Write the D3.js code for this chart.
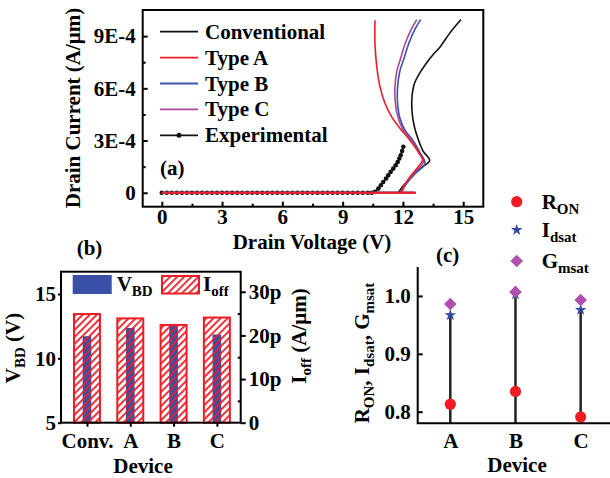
<!DOCTYPE html>
<html>
<head>
<meta charset="utf-8">
<script src="https://cdn.jsdelivr.net/npm/d3@7"></script>
<style>
  body { margin: 0; background: #fff; }
  text { font-family: "Liberation Serif", "Times New Roman", serif; font-weight: bold; fill: #000; }
</style>
</head>
<body>
<div class="chart"></div>
<script>
// ---- panel (a): drain current (units of 1E-4 A/um) vs drain voltage
var seriesNames = [`Conventional`, `Type A`, `Type B`, `Type C`, `Experimental`];
var seriesColors = [`#111111`, `#ee1c24`, `#3a52a8`, `#a8479f`, `#111111`];

// first two points = low current sweep along 0, the rest = breakdown / snapback branch
var convV = [0, 12.6, 11.77, 11.95, 12.2, 12.55, 12.95, 13.33, 13.0, 12.75, 12.55, 12.45, 12.45, 12.58, 12.85, 13.2, 13.55, 13.85, 14.35, 14.89];
var convI = [0, 0, 0, 0.3, 0.65, 1.05, 1.47, 1.85, 2.4, 3.1, 3.9, 4.7, 5.5, 6.3, 6.9, 7.5, 8.0, 8.38, 9.2, 9.95];
var typeAV = [0, 12.65, 11.89, 12.02, 12.35, 12.69, 12.98, 12.72, 12.35, 11.86, 11.44, 11.11, 10.86, 10.7, 10.61, 10.61];
var typeAI = [0, 0, 0, 0.33, 0.91, 1.39, 1.93, 2.44, 3.02, 3.69, 4.36, 5.13, 6.08, 7.23, 8.57, 9.91];
var typeBV = [0, 12.6, 11.93, 12.05, 12.3, 12.65, 13.1, 12.85, 12.5, 12.1, 11.85, 11.73, 11.73, 11.85, 12.05, 12.3, 12.6, 12.88];
var typeBI = [0, 0, 0, 0.3, 0.7, 1.15, 1.68, 2.3, 3.0, 3.6, 4.3, 5.2, 6.0, 7.0, 7.7, 8.6, 9.4, 9.95];
var typeCV = [0, 12.6, 11.9, 12.02, 12.25, 12.6, 13.02, 12.75, 12.4, 12.0, 11.75, 11.62, 11.6, 11.7, 11.88, 12.12, 12.42, 12.69];
var typeCI = [0, 0, 0, 0.3, 0.72, 1.2, 1.77, 2.35, 3.05, 3.65, 4.35, 5.2, 6.0, 7.0, 7.7, 8.6, 9.4, 9.95];
var expV = [0, 0.25, 0.5, 0.75, 1, 1.25, 1.5, 1.75, 2, 2.25, 2.5, 2.75, 3, 3.25, 3.5, 3.75, 4, 4.25, 4.5, 4.75,
            5, 5.25, 5.5, 5.75, 6, 6.25, 6.5, 6.75, 7, 7.25, 7.5, 7.75, 8, 8.25, 8.5, 8.75, 9, 9.25, 9.5, 9.75,
            10, 10.25, 10.45, 10.61, 10.78, 10.9, 11.02, 11.16, 11.27, 11.39, 11.52, 11.64, 11.74, 11.82, 11.89, 11.96, 12.02];
var expI = [0, 0, 0, 0, 0, 0, 0, 0, 0, 0, 0, 0, 0, 0, 0, 0, 0, 0, 0, 0,
            0, 0, 0, 0, 0, 0, 0, 0, 0, 0, 0, 0, 0, 0, 0, 0, 0, 0, 0, 0,
            0, 0, 0, 0.05, 0.24, 0.43, 0.62, 0.82, 1.0, 1.2, 1.39, 1.58, 1.77, 1.97, 2.16, 2.4, 2.64];
var voltTicks = [0, 3, 6, 9, 12, 15];
var voltMinor = [1.5, 4.5, 7.5, 10.5, 13.5];
var currTicks = [0, 3, 6, 9];
var currMinor = [1.5, 4.5, 7.5];

// ---- panel (b)
var devicesB = [`Conv.`, `A`, `B`, `C`];
var vbd = [11.72, 12.36, 12.52, 11.85];       // V
var ioff = [24.9, 23.9, 22.4, 24.1];          // pA/um
var vbdTicks = [5, 10, 15];
var ioffTicks = [0, 10, 20, 30];
var ioffMinor = [5, 15, 25];

// ---- panel (c), normalised
var devicesC = [`A`, `B`, `C`];
var ron = [0.813, 0.835, 0.791];
var idsat = [0.967, 1.003, 0.976];
var gmsat = [0.986, 1.007, 0.993];
var normTicks = [0.8, 0.9, 1.0];

var fontSize = 21;
var subSize = 15;

var svg = d3.select(`.chart`)
    .append(`svg`)
    .attr(`width`, 610)
    .attr(`height`, 478);

var defs = svg.append(`defs`);
var hatch = defs.append(`pattern`)
    .attr(`id`, `hatch`)
    .attr(`patternUnits`, `userSpaceOnUse`)
    .attr(`width`, 5)
    .attr(`height`, 5)
    .attr(`patternTransform`, `rotate(45)`);
hatch.append(`line`)
    .attr(`x1`, 1).attr(`y1`, 0).attr(`x2`, 1).attr(`y2`, 5)
    .style(`stroke`, `#ee1c24`).style(`stroke-width`, 1.8);

function richText(sel, parts) {
    // parts: [text, isSubscript]
    var prevSub = false;
    parts.forEach(p => {
        var t = sel.append(`tspan`).text(p[0]);
        if (p[1]) {
            t.style(`font-size`, `${subSize}px`).attr(`dy`, prevSub ? 0 : 5);
        } else {
            t.style(`font-size`, `${fontSize}px`).attr(`dy`, prevSub ? -5 : 0);
        }
        prevSub = p[1];
    });
    return sel;
}

function styleAxis(g) {
    g.select(`.domain`).remove();
    g.selectAll(`.tick line`).style(`stroke`, `#000`).style(`stroke-width`, 2);
    g.selectAll(`.tick text`)
        .style(`font-family`, `"Liberation Serif", "Times New Roman", serif`)
        .style(`font-weight`, `bold`)
        .style(`font-size`, `${fontSize}px`)
        .style(`fill`, `#000`);
}

// ================= panel (a)
var xA = d3.scaleLinear().domain([-0.95, 16]).range([142.7, 483.3]);
var yA = d3.scaleLinear().domain([-0.8, 10.5]).range([206.7, 10]);
var gA = svg.append(`g`);

gA.append(`g`)
    .attr(`transform`, `translate(0,206.7)`)
    .call(d3.axisBottom(xA).tickValues(voltTicks).tickSize(-5).tickPadding(2.5))
    .call(styleAxis);
gA.append(`g`)
    .attr(`transform`, `translate(0,206.7)`)
    .call(d3.axisBottom(xA).tickValues(voltMinor).tickSize(-3).tickFormat(``))
    .call(styleAxis);
gA.append(`g`)
    .attr(`transform`, `translate(142.7,0)`)
    .call(d3.axisLeft(yA).tickValues(currTicks).tickSize(-5).tickPadding(7)
        .tickFormat(d => d === 0 ? `0` : `${d}E-4`))
    .call(styleAxis);
gA.append(`g`)
    .attr(`transform`, `translate(142.7,0)`)
    .call(d3.axisLeft(yA).tickValues(currMinor).tickSize(-3).tickFormat(``))
    .call(styleAxis);

var curves = [
    {name: seriesNames[0], color: seriesColors[0], v: convV, i: convI},
    {name: seriesNames[2], color: seriesColors[2], v: typeBV, i: typeBI},
    {name: seriesNames[3], color: seriesColors[3], v: typeCV, i: typeCI},
    {name: seriesNames[1], color: seriesColors[1], v: typeAV, i: typeAI}
];

var flatLine = d3.line().x(d => xA(d[0])).y(d => yA(d[1]));
var smoothLine = d3.line().x(d => xA(d[0])).y(d => yA(d[1])).curve(d3.curveCatmullRom.alpha(0.5));

// experimental: line + dots
var expPts = expV.map((v, k) => [v, expI[k]]);
gA.append(`path`)
    .attr(`d`, flatLine(expPts))
    .style(`fill`, `none`).style(`stroke`, seriesColors[4]).style(`stroke-width`, 1.5);
gA.selectAll(`.expdot`)
    .data(expPts)
    .enter()
    .append(`circle`)
    .attr(`class`, `expdot`)
    .attr(`cx`, d => xA(d[0]))
    .attr(`cy`, d => yA(d[1]))
    .attr(`r`, 2.3)
    .style(`fill`, seriesColors[4]);

curves.forEach(c => {
    var pts = c.v.map((v, k) => [v, c.i[k]]);
    gA.append(`path`)
        .attr(`d`, flatLine(pts.slice(0, 2)))
        .style(`fill`, `none`).style(`stroke`, c.color).style(`stroke-width`, 2);
    gA.append(`path`)
        .attr(`d`, smoothLine(pts.slice(2)))
        .style(`fill`, `none`).style(`stroke`, c.color).style(`stroke-width`, 1.6);
});

gA.append(`rect`)
    .attr(`x`, 142.7).attr(`y`, 10)
    .attr(`width`, 483.3 - 142.7).attr(`height`, 206.7 - 10)
    .style(`fill`, `none`).style(`stroke`, `#000`).style(`stroke-width`, 2);

// legend (a)
var legA = gA.selectAll(`.legA`)
    .data(seriesNames)
    .enter()
    .append(`g`)
    .attr(`class`, `legA`)
    .attr(`transform`, (d, k) => `translate(160, ${31.7 + k * 25.9})`);
legA.append(`line`)
    .attr(`x1`, 0).attr(`x2`, 38)
    .style(`stroke`, (d, k) => seriesColors[k])
    .style(`stroke-width`, 1.8);
legA.filter(d => d === `Experimental`)
    .append(`circle`)
    .attr(`cx`, 19).attr(`r`, 2.5)
    .style(`fill`, seriesColors[4]);
legA.append(`text`)
    .attr(`x`, 45).attr(`y`, 7)
    .style(`font-size`, `${fontSize}px`)
    .text(d => d);

gA.append(`text`).attr(`x`, 160).attr(`y`, 175).style(`font-size`, `${fontSize}px`).text(`(a)`);
gA.append(`text`).attr(`x`, 312).attr(`y`, 248.5)
    .style(`font-size`, `${fontSize}px`).style(`text-anchor`, `middle`).text(`Drain Voltage (V)`);
gA.append(`text`)
    .attr(`transform`, `translate(80,108) rotate(-90)`)
    .style(`font-size`, `${fontSize}px`).style(`text-anchor`, `middle`).text(`Drain Current (A/μm)`);

// ================= panel (b)
var xB = d3.scaleLinear().domain([0.4, 4.55]).range([61, 240.7]);
var yB = d3.scaleLinear().domain([5, 16.73]).range([422.7, 271.7]);
var yB2 = d3.scaleLinear().domain([0, 34.6]).range([422.7, 271.7]);
var gB = svg.append(`g`);
var posB = devicesB.map((d, k) => k + 1);

gB.selectAll(`.vbd`)
    .data(vbd)
    .enter()
    .append(`rect`)
    .attr(`class`, `vbd`)
    .attr(`x`, (d, k) => xB(posB[k] - 0.1))
    .attr(`width`, xB(0.2) - xB(0))
    .attr(`y`, d => yB(d))
    .attr(`height`, d => yB(5) - yB(d))
    .style(`fill`, `#3a4fa6`);

gB.selectAll(`.ioff`)
    .data(ioff)
    .enter()
    .append(`rect`)
    .attr(`class`, `ioff`)
    .attr(`x`, (d, k) => xB(posB[k] - 0.3))
    .attr(`width`, xB(0.6) - xB(0))
    .attr(`y`, d => yB2(d))
    .attr(`height`, d => yB2(0) - yB2(d))
    .style(`fill`, `url(#hatch)`)
    .style(`stroke`, `#ee1c24`)
    .style(`stroke-width`, 2);

gB.append(`g`)
    .attr(`transform`, `translate(0,422.7)`)
    .call(d3.axisBottom(xB).tickValues(posB).tickSize(4).tickPadding(6.5).tickFormat((d, k) => devicesB[k]))
    .call(styleAxis);
gB.append(`g`)
    .attr(`transform`, `translate(61,0)`)
    .call(d3.axisLeft(yB).tickValues(vbdTicks).tickSize(3).tickPadding(2))
    .call(styleAxis);
gB.append(`g`)
    .attr(`transform`, `translate(240.7,0)`)
    .call(d3.axisRight(yB2).tickValues(ioffTicks).tickSize(5).tickPadding(3)
        .tickFormat(d => d === 0 ? `0` : `${d}p`))
    .call(styleAxis);
gB.append(`g`)
    .attr(`transform`, `translate(240.7,0)`)
    .call(d3.axisRight(yB2).tickValues(ioffMinor).tickSize(-3).tickFormat(``))
    .call(styleAxis);

gB.append(`rect`)
    .attr(`x`, 61).attr(`y`, 271.7)
    .attr(`width`, 240.7 - 61).attr(`height`, 422.7 - 271.7)
    .style(`fill`, `none`).style(`stroke`, `#000`).style(`stroke-width`, 2);

// legend (b)
gB.append(`rect`).attr(`x`, 72.7).attr(`y`, 275).attr(`width`, 39).attr(`height`, 19)
    .style(`fill`, `#3a4fa6`);
richText(gB.append(`text`).attr(`x`, 116.7).attr(`y`, 290.5), [[`V`, false], [`BD`, true]]);
gB.append(`rect`).attr(`x`, 162).attr(`y`, 276).attr(`width`, 37).attr(`height`, 17.5)
    .style(`fill`, `url(#hatch)`).style(`stroke`, `#ee1c24`).style(`stroke-width`, 2);
richText(gB.append(`text`).attr(`x`, 203).attr(`y`, 290.5), [[`I`, false], [`off`, true]]);

gB.append(`text`).attr(`x`, 76.7).attr(`y`, 255).style(`font-size`, `${fontSize}px`).text(`(b)`);
gB.append(`text`).attr(`x`, 143).attr(`y`, 473)
    .style(`font-size`, `${fontSize}px`).style(`text-anchor`, `middle`).text(`Device`);
richText(gB.append(`text`)
    .attr(`transform`, `translate(20,348) rotate(-90)`)
    .style(`text-anchor`, `middle`), [[`V`, false], [`BD`, true], [` (V)`, false]]);
richText(gB.append(`text`)
    .attr(`transform`, `translate(306,336) rotate(-90)`)
    .style(`text-anchor`, `middle`), [[`I`, false], [`off`, true], [` (A/μm)`, false]]);

// ================= panel (c)
var xC = d3.scaleLinear().domain([0.5, 3.45]).range([417.7, 610]);
var yC = d3.scaleLinear().domain([0.78, 1.05]).range([423.3, 267]);
var gC = svg.append(`g`);
var posC = devicesC.map((d, k) => k + 1);

gC.selectAll(`.stem`)
    .data(idsat)
    .enter()
    .append(`line`)
    .attr(`class`, `stem`)
    .attr(`x1`, (d, k) => xC(posC[k]))
    .attr(`x2`, (d, k) => xC(posC[k]))
    .attr(`y1`, yC(0.78))
    .attr(`y2`, d => yC(d))
    .style(`stroke`, `#222`)
    .style(`stroke-width`, 2.5);

gC.append(`g`)
    .attr(`transform`, `translate(0,423.3)`)
    .call(d3.axisBottom(xC).tickValues(posC).tickSize(0).tickPadding(10).tickFormat((d, k) => devicesC[k]))
    .call(styleAxis);
gC.append(`g`)
    .attr(`transform`, `translate(417.7,0)`)
    .call(d3.axisLeft(yC).tickValues(normTicks).tickSize(-5).tickPadding(7).tickFormat(d3.format(`.1f`)))
    .call(styleAxis);
gC.append(`path`)
    .attr(`d`, `M417.7,267V423.3H610`)
    .style(`fill`, `none`).style(`stroke`, `#000`).style(`stroke-width`, 2);

var starSym = d3.symbol().type(d3.symbolStar).size(42);
var diamondSym = d3.symbol().type(d3.symbolSquare).size(80);

gC.selectAll(`.ron`)
    .data(ron)
    .enter()
    .append(`circle`)
    .attr(`class`, `ron`)
    .attr(`cx`, (d, k) => xC(posC[k]))
    .attr(`cy`, d => yC(d))
    .attr(`r`, 5.6)
    .style(`fill`, `#ee1c24`);
gC.selectAll(`.idsat`)
    .data(idsat)
    .enter()
    .append(`path`)
    .attr(`class`, `idsat`)
    .attr(`d`, starSym)
    .attr(`transform`, (d, k) => `translate(${xC(posC[k])},${yC(d)})`)
    .style(`fill`, `#2f4aa0`);
gC.selectAll(`.gmsat`)
    .data(gmsat)
    .enter()
    .append(`path`)
    .attr(`class`, `gmsat`)
    .attr(`d`, diamondSym)
    .attr(`transform`, (d, k) => `translate(${xC(posC[k])},${yC(d)}) rotate(45)`)
    .style(`fill`, `#b04fae`);

// legend (c)
gC.append(`circle`).attr(`cx`, 516.7).attr(`cy`, 201.7).attr(`r`, 5.6).style(`fill`, `#ee1c24`);
gC.append(`path`).attr(`d`, starSym).attr(`transform`, `translate(516.7,230)`).style(`fill`, `#2f4aa0`);
gC.append(`path`).attr(`d`, diamondSym).attr(`transform`, `translate(516.7,261) rotate(45)`).style(`fill`, `#b04fae`);
richText(gC.append(`text`).attr(`x`, 541.7).attr(`y`, 208.5), [[`R`, false], [`ON`, true]]);
richText(gC.append(`text`).attr(`x`, 541.7).attr(`y`, 237), [[`I`, false], [`dsat`, true]]);
richText(gC.append(`text`).attr(`x`, 541.7).attr(`y`, 268), [[`G`, false], [`msat`, true]]);

gC.append(`text`).attr(`x`, 436).attr(`y`, 262).style(`font-size`, `${fontSize}px`).text(`(c)`);
gC.append(`text`).attr(`x`, 517).attr(`y`, 472)
    .style(`font-size`, `${fontSize}px`).style(`text-anchor`, `middle`).text(`Device`);
richText(gC.append(`text`)
    .attr(`transform`, `translate(369,353) rotate(-90)`)
    .style(`text-anchor`, `middle`),
    [[`R`, false], [`ON`, true], [`, I`, false], [`dsat`, true], [`, G`, false], [`msat`, true]]);
</script>
</body>
</html>
